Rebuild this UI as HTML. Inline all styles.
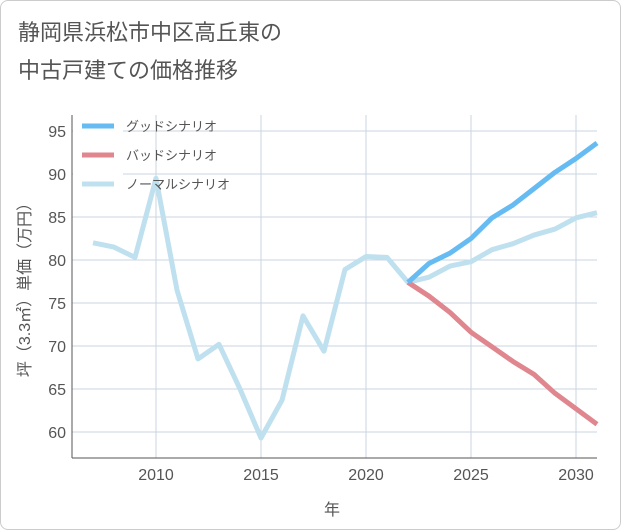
<!DOCTYPE html>
<html><head><meta charset="utf-8"><style>
body{margin:0;background:#fff;font-family:"Liberation Sans","Noto Sans CJK JP",sans-serif;}
#wrap{position:relative;width:619px;height:528px;border:1px solid #ccc;border-radius:8px;background:#fff;overflow:hidden}
</style></head><body>
<div id="wrap">
<svg id="chart" width="621" height="530" style="position:absolute;left:-1px;top:-1px">
<text x="18" y="40" font-size="22" fill="#555">静岡県浜松市中区高丘東の</text>
<text x="18" y="78" font-size="22" fill="#555">中古戸建ての価格推移</text>
<g id="grid"></g><g id="series"></g><g id="legend"></g>
<text x="332" y="515" font-size="16" fill="#555" text-anchor="middle">年</text>
<text transform="translate(30,286) rotate(-90)" font-size="16" fill="#555" text-anchor="middle">坪（3.3㎡）単価（万円）</text>
</svg></div>
<script>
const years=[2007,2008,2009,2010,2011,2012,2013,2014,2015,2016,2017,2018,2019,2020,2021,2022,2023,2024,2025,2026,2027,2028,2029,2030,2031];
const normal=[82,81.5,80.3,89.5,76.5,68.5,70.2,65,59.3,63.7,73.5,69.4,78.9,80.4,80.3,77.4,78,79.3,79.8,81.2,81.9,82.9,83.6,84.9,85.5];
const futureYears=[2022,2023,2024,2025,2026,2027,2028,2029,2030,2031];
const good=[77.4,79.6,80.8,82.5,84.9,86.4,88.3,90.2,91.8,93.6];
const bad=[77.4,75.8,73.9,71.6,69.9,68.2,66.7,64.5,62.7,60.9];
const xTicks=[2010,2015,2020,2025,2030];
const yTicks=[60,65,70,75,80,85,90,95];
const L=72,R=597,T=115,B=458;
const x=v=>156+(v-2010)*21;
const y=v=>260-(v-80)*8.6;
const NS="http://www.w3.org/2000/svg";
function mk(tag,attrs,parent){const e=document.createElementNS(NS,tag);for(const k in attrs)e.setAttribute(k,attrs[k]);parent.appendChild(e);return e;}
const g=document.getElementById('grid');
xTicks.forEach(t=>{const l=mk('line',{x1:x(t),x2:x(t),y1:T,y2:B,stroke:'#c9d6e2'},g);

});
yTicks.forEach(t=>{const l=mk('line',{x1:L,x2:R,y1:y(t),y2:y(t),stroke:'#c9d6e2'},g);

});
const ax=mk('line',{x1:L,x2:L,y1:T,y2:B,stroke:'#555'},g);


const bx=mk('line',{x1:L,x2:R,y1:B,y2:B,stroke:'#555'},g);


xTicks.forEach(t=>{const e=mk('text',{x:x(t),y:B+22,'font-size':16,fill:'#555','text-anchor':'middle'},g);e.textContent=t;

});
yTicks.forEach(t=>{const e=mk('text',{x:L-6,y:y(t)+6,'font-size':16,fill:'#555','text-anchor':'end'},g);e.textContent=t;

});
const lg=document.getElementById('legend');
const lb=mk('rect',{x:L+1,y:T,width:50,height:85,fill:'#fff'},g);


const s=document.getElementById('series');
function line(xs,vs,color,name){const p=mk('polyline',{points:xs.map((yr,i)=>x(yr)+','+y(vs[i])).join(' '),fill:'none',stroke:color,'stroke-width':5,'stroke-linejoin':'round'},s);

}
line(years,normal,'#bfe0ee','normal-scenario-line');
line(futureYears,bad,'#e0868e','bad-scenario-line');
line(futureYears,good,'#66bbf2','good-scenario-line');
[['グッドシナリオ','#66bbf2'],['バッドシナリオ','#e0868e'],['ノーマルシナリオ','#bfe0ee']].forEach((d,i)=>{
const yy=126+i*29;
const l=mk('line',{x1:82,x2:114,y1:yy,y2:yy,stroke:d[1],'stroke-width':5},lg);


const t=mk('text',{x:126,y:yy+5,'font-size':13,fill:'#555'},lg);t.textContent=d[0];

});
</script></body></html>
